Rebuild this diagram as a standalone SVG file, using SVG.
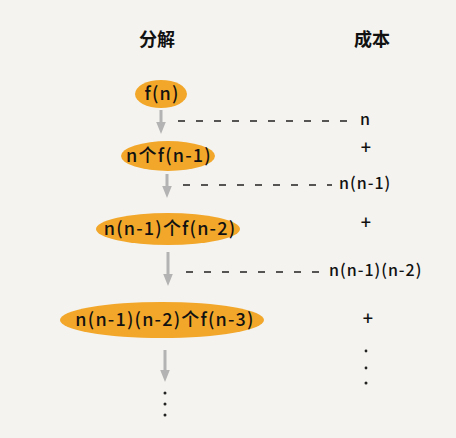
<svg xmlns="http://www.w3.org/2000/svg" width="456" height="438" viewBox="0 0 456 438">
<defs>
<style>
.t{font-family:"Noto Sans CJK SC","Noto Sans",sans-serif;fill:#111;}
.h{font-size:18px;font-weight:bold;text-anchor:middle;}
.n{font-size:18px;font-weight:500;text-anchor:middle;letter-spacing:1.2px;}
.c{font-size:16px;font-weight:500;letter-spacing:1px;}
.p{font-size:18px;font-weight:500;text-anchor:middle;}
.e{fill:#f2a72a;}
.a{stroke:#b3b3b3;stroke-width:3;fill:none;}
.d{stroke:#222;stroke-width:1.6;stroke-dasharray:7 11;fill:none;}
.dot{fill:#222;}
</style>
<marker id="ah" viewBox="0 0 10 10" refX="5" refY="5" markerWidth="4" markerHeight="4" orient="auto">
<path d="M0,1 L10,5 L0,9 Z" fill="#b3b3b3"/>
</marker>
</defs>
<rect width="456" height="438" fill="#f4f3ef"/>
<text class="t h" x="157" y="46">分解</text>
<text class="t h" x="372" y="46">成本</text>
<g id="n1"><ellipse class="e" cx="161" cy="94" rx="26" ry="14"/><text class="t n" x="162" y="100">f(n)</text></g>
<g id="n2"><ellipse class="e" cx="168" cy="156" rx="47" ry="15"/><text class="t n" x="169" y="162">n个f(n-1)</text></g>
<g id="n3"><ellipse class="e" cx="168" cy="229" rx="72" ry="16"/><text class="t n" x="170" y="235">n(n-1)个f(n-2)</text></g>
<g id="n4"><ellipse class="e" cx="162" cy="320" rx="102" ry="18"/><text class="t n" x="165" y="326">n(n-1)(n-2)个f(n-3)</text></g>
<g id="connectors">
<line class="a" x1="161" y1="110" x2="161" y2="128" marker-end="url(#ah)"/>
<line class="a" x1="167" y1="174" x2="167" y2="192" marker-end="url(#ah)"/>
<line class="a" x1="168" y1="252" x2="168" y2="280" marker-end="url(#ah)"/>
<line class="a" x1="165" y1="350" x2="165" y2="376" marker-end="url(#ah)"/>
<line class="d" x1="178" y1="121" x2="348" y2="121"/>
<line class="d" x1="183" y1="185" x2="332" y2="185"/>
<line class="d" x1="186" y1="272" x2="324" y2="272"/>
</g>
<g id="costs">
<text class="t c" x="360" y="125">n</text>
<text class="t p" x="366" y="154">+</text>
<text class="t c" x="339" y="189">n(n-1)</text>
<text class="t p" x="366" y="229">+</text>
<text class="t c" x="329" y="276">n(n-1)(n-2)</text>
<text class="t p" x="368" y="325">+</text>
</g>
<circle class="dot" cx="165" cy="393" r="1.5"/>
<circle class="dot" cx="165" cy="404" r="1.5"/>
<circle class="dot" cx="165" cy="415" r="1.5"/>
<circle class="dot" cx="366" cy="351" r="1.4"/>
<circle class="dot" cx="366" cy="368" r="1.4"/>
<circle class="dot" cx="366" cy="383" r="1.5"/>
</svg>
